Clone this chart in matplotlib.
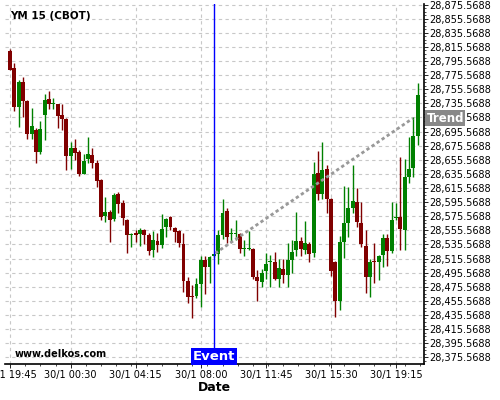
import matplotlib
matplotlib.use("Agg")
import matplotlib.pyplot as plt
from matplotlib.ticker import FixedLocator, FuncFormatter, AutoMinorLocator
from matplotlib.transforms import blended_transform_factory

# 15 minute candles, YM 15 (CBOT)
opens = [28810.0, 28785.8, 28730.9, 28765.9, 28739.4, 28691.5, 28697.9, 28667.1, 28719.1, 28741.8,
         28735.2, 28734.7, 28719.1, 28713.7, 28661.4, 28672.3, 28666.0, 28635.9, 28656.3, 28662.4,
         28650.6, 28627.0, 28575.9, 28581.1, 28571.6, 28607.1, 28594.8, 28570.2, 28549.3, 28551.1,
         28549.7, 28556.1, 28548.3, 28527.7, 28540.8, 28535.1, 28559.7, 28573.9, 28558.9, 28555.1,
         28536.2, 28484.0, 28461.5, 28462.8, 28479.5, 28513.5, 28502.9, 28518.5, 28522.5, 28549.0,
         28583.0, 28550.0, 28550.4, 28550.4, 28528.7, 28529.1, 28528.7, 28489.8, 28482.7, 28498.4,
         28510.7, 28510.7, 28487.0, 28501.0, 28492.2, 28513.5, 28527.7, 28540.5, 28528.1, 28536.6,
         28522.8, 28637.3, 28607.1, 28642.6, 28600.0, 28510.7, 28455.8, 28539.1, 28566.0, 28586.8,
         28595.8, 28566.0, 28533.4, 28488.7, 28511.8, 28510.7, 28520.6, 28544.3, 28526.7, 28572.4,
         28574.1, 28556.1, 28631.6, 28644.0, 28689.4]
highs = [28812.3, 28792.4, 28768.8, 28772.6, 28740.4, 28728.6, 28700.3, 28709.9, 28748.5, 28752.5,
         28742.5, 28735.4, 28734.3, 28714.4, 28680.4, 28684.7, 28669.8, 28664.5, 28687.5, 28671.9,
         28655.3, 28628.5, 28603.5, 28584.4, 28608.0, 28610.4, 28597.9, 28571.5, 28551.1, 28556.1,
         28558.5, 28557.5, 28552.3, 28554.7, 28552.3, 28578.5, 28573.0, 28575.3, 28560.8, 28556.1,
         28551.4, 28488.7, 28477.4, 28487.6, 28519.2, 28518.8, 28518.8, 28522.0, 28556.1, 28599.6,
         28586.8, 28558.5, 28570.2, 28551.4, 28541.9, 28554.7, 28530.1, 28499.3, 28500.3, 28523.9,
         28520.6, 28524.9, 28515.2, 28514.5, 28538.1, 28541.9, 28581.6, 28546.1, 28568.8, 28539.7,
         28652.1, 28667.7, 28680.4, 28648.2, 28601.0, 28512.0, 28547.6, 28618.5, 28617.5, 28648.2,
         28615.2, 28595.3, 28556.1, 28514.5, 28538.1, 28520.6, 28550.4, 28550.4, 28596.2, 28594.8,
         28659.2, 28656.3, 28687.5, 28715.9, 28764.9]
lows = [28782.2, 28725.2, 28702.5, 28715.6, 28684.4, 28684.4, 28650.6, 28664.5, 28683.6, 28727.4,
        28726.9, 28700.3, 28697.5, 28641.1, 28642.3, 28654.6, 28633.1, 28634.9, 28650.6, 28643.7,
        28616.6, 28569.5, 28567.4, 28539.5, 28569.2, 28579.7, 28563.1, 28523.9, 28531.9, 28539.5,
        28533.8, 28536.2, 28520.6, 28517.1, 28525.3, 28531.2, 28545.7, 28556.1, 28538.4, 28532.4,
        28468.1, 28452.1, 28430.9, 28458.9, 28446.5, 28465.3, 28480.9, 28517.8, 28508.3, 28543.6,
        28537.2, 28539.5, 28541.9, 28523.0, 28519.2, 28527.7, 28486.6, 28455.4, 28475.3, 28486.2,
        28475.5, 28485.2, 28474.8, 28480.9, 28475.5, 28495.5, 28519.2, 28519.2, 28522.0, 28510.7,
        28518.2, 28598.6, 28599.6, 28580.6, 28490.8, 28433.1, 28442.6, 28515.9, 28545.7, 28579.7,
        28560.8, 28532.4, 28467.1, 28461.5, 28480.5, 28485.2, 28503.2, 28505.0, 28523.5, 28570.9,
        28527.7, 28527.7, 28622.3, 28631.6, 28676.6]
closes = [28783.4, 28730.9, 28765.9, 28739.4, 28692.2, 28703.5, 28667.1, 28699.3, 28740.4, 28735.2,
          28736.1, 28718.1, 28713.7, 28661.4, 28672.3, 28665.9, 28635.9, 28653.5, 28663.8, 28650.6,
          28626.0, 28574.9, 28581.1, 28570.9, 28605.7, 28592.9, 28573.5, 28549.0, 28550.8, 28548.3,
          28556.1, 28549.0, 28526.7, 28541.9, 28535.2, 28557.2, 28571.0, 28560.8, 28553.7, 28538.1,
          28484.2, 28461.5, 28460.6, 28479.5, 28513.5, 28502.9, 28517.5, 28521.3, 28549.0, 28579.7,
          28546.6, 28551.1, 28551.8, 28529.1, 28529.8, 28530.1, 28489.8, 28484.2, 28495.5, 28507.9,
          28511.7, 28487.0, 28502.2, 28492.2, 28513.5, 28525.1, 28540.5, 28528.7, 28537.2, 28522.5,
          28635.5, 28607.1, 28641.2, 28600.0, 28498.4, 28455.8, 28539.1, 28566.0, 28586.8, 28596.5,
          28567.8, 28535.5, 28488.7, 28511.1, 28510.0, 28519.2, 28544.3, 28526.7, 28570.2, 28574.5,
          28557.1, 28631.6, 28642.6, 28689.4, 28747.5]

tick_pos = [0, 14, 29, 44, 59, 74, 89]
tick_labels = ['29/1 19:45', '30/1 00:30', '30/1 04:15', '30/1 08:00',
               '30/1 11:45', '30/1 15:30', '30/1 19:15']
y_ticks = [28375.5688 + 20 * k for k in range(26)]

event_idx = 47
trend_idx = [47.3, 92.9]
trend_val = [28523.0, 28714.5]

fig = plt.figure(figsize=(5, 4), dpi=100)
ax = fig.add_axes([0.01, 0.09, 0.838, 0.90])

idx = list(range(len(opens)))
up = [c >= o for o, c in zip(opens, closes)]
colors = ['#008000' if u else '#800000' for u in up]
bottoms = [min(o, c) for o, c in zip(opens, closes)]
heights = [max(abs(c - o), 1.4) for o, c in zip(opens, closes)]

ax.vlines(idx, lows, highs, colors=colors, linewidth=1.0, zorder=3)
ax.bar(idx, heights, bottom=bottoms, width=0.9, color=colors, linewidth=0, zorder=4)

# trend line and event marker
ax.plot(trend_idx, trend_val, color='#999999', linestyle=(0, (1.2, 1.0)), linewidth=2.0, zorder=5)
ax.axvline(event_idx, color='#0000ff', linewidth=1.0, zorder=6)

ax.set_xlim(-1.15, 95.45)
ax.set_ylim(28366.0, 28876.5)

ax.xaxis.set_major_locator(FixedLocator(tick_pos))
ax.set_xticklabels(tick_labels)
ax.xaxis.set_minor_locator(AutoMinorLocator(4))
ax.yaxis.set_major_locator(FixedLocator(y_ticks))
ax.yaxis.set_minor_locator(AutoMinorLocator(4))
ax.yaxis.set_major_formatter(FuncFormatter(lambda v, p: f'{v:,.4f}'))
ax.yaxis.tick_right()
ax.tick_params(axis='both', which='major', labelsize=7, length=3, width=0.6, pad=1)
ax.tick_params(axis='both', which='minor', length=1.5, width=0.5)

ax.grid(True, which='major', color='#c8c8c8', linestyle=(0, (3, 3)), linewidth=0.8)
ax.set_axisbelow(True)

for side in ['top', 'left']:
    ax.spines[side].set_visible(False)
ax.spines['right'].set_linewidth(1.2)
ax.spines['bottom'].set_linewidth(1.2)

ax.set_xlabel('Date', fontsize=9, fontweight='bold', labelpad=1)

ax.text(0.012, 0.968, 'YM 15 (CBOT)', transform=ax.transAxes, fontsize=7.5,
        fontweight='bold', ha='left', va='center')
ax.text(0.024, 0.028, 'www.delkos.com', transform=ax.transAxes, fontsize=7,
        fontweight='bold', ha='left', va='center')

ax.text(event_idx, 0.003, 'Event', transform=blended_transform_factory(ax.transData, ax.transAxes),
        fontsize=9.5, fontweight='bold', color='white', ha='center', va='bottom', zorder=7,
        bbox=dict(boxstyle='square,pad=0.15', facecolor='#0000ff', edgecolor='none'))

ax.text(1.006, trend_val[-1], 'Trend', transform=blended_transform_factory(ax.transAxes, ax.transData),
        fontsize=8.5, fontweight='bold', color='white', ha='left', va='center', zorder=7,
        bbox=dict(boxstyle='square,pad=0.12', facecolor='#888888', edgecolor='none'),
        clip_on=False)

fig.savefig('out.png', dpi=100, facecolor='white')
